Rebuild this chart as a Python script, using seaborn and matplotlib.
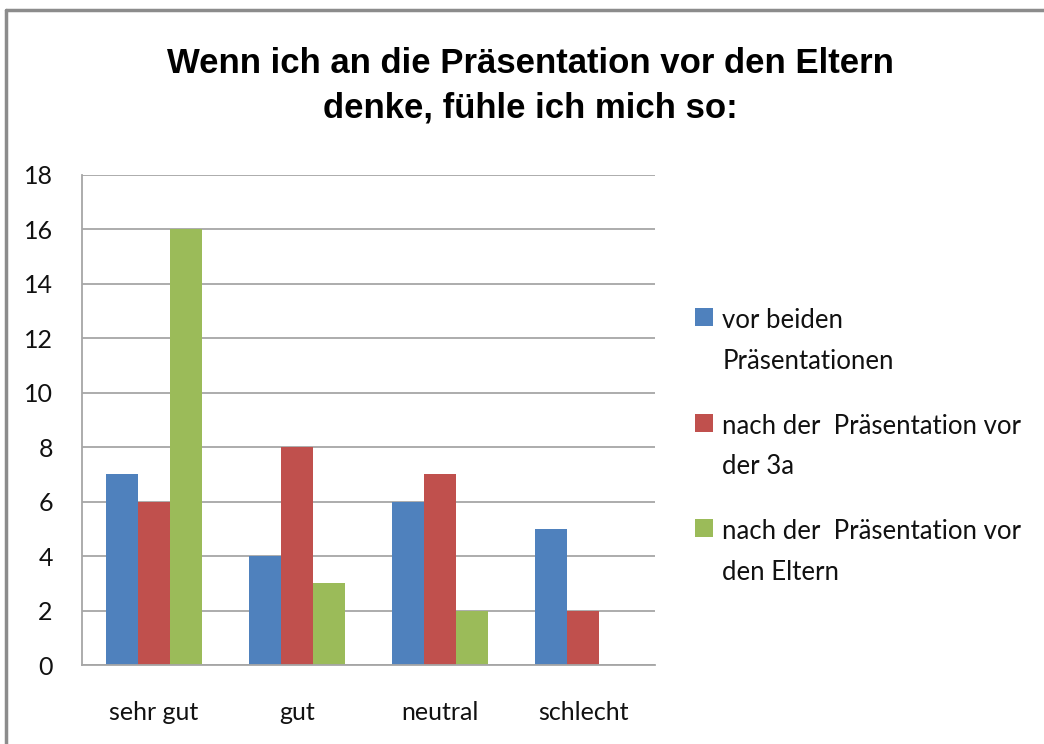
import numpy as np
import pandas as pd
import matplotlib
matplotlib.use("Agg")
import matplotlib.pyplot as plt
import seaborn as sns
from matplotlib.patches import Patch
from matplotlib.lines import Line2D
from matplotlib.offsetbox import HPacker

# --- DATA ---
categories = ["sehr gut", "gut", "neutral", "schlecht"]
series = ["vor beiden\nPräsentationen",
          "nach der  Präsentation vor\nder 3a",
          "nach der  Präsentation vor\nden Eltern"]
vor_beiden = [7, 4, 6, 5]
nach_3a = [6, 8, 7, 2]
nach_eltern = [16, 3, 2, 0]
colors = ["#4F81BD", "#C0504D", "#9BBB59"]

rows = []
for s, vals in zip(series, [vor_beiden, nach_3a, nach_eltern]):
    for c, v in zip(categories, vals):
        rows.append({"Kategorie": c, "Serie": s, "Anzahl": v})
df = pd.DataFrame(rows)

# --- PLOT ---
sns.set_style("white")
plt.rcParams["font.family"] = ["Lato", "DejaVu Sans"]

fig = plt.figure(figsize=(10.44, 7.44), dpi=100)
ax = fig.add_axes([0.0785, 0.106, 0.549, 0.659])

sns.barplot(data=df, x="Kategorie", y="Anzahl", hue="Serie",
            palette=colors, width=0.67, saturation=1, ax=ax,
            edgecolor="none", legend=False)

ax.set_ylim(0, 18)
ax.set_yticks(range(0, 19, 2))
ax.set_xlim(-0.5, 3.5)
ax.yaxis.grid(True, color="#A6A6A6", linewidth=1.3)
ax.set_axisbelow(True)
ax.set_xlabel("")
ax.set_ylabel("")
for side in ["top", "right"]:
    ax.spines[side].set_visible(False)
for side in ["left", "bottom"]:
    ax.spines[side].set_color("#A6A6A6")
    ax.spines[side].set_linewidth(1.3)
ax.tick_params(axis="y", length=0, pad=21, labelsize=18, labelcolor="#111111")
ax.tick_params(axis="x", length=0, pad=26, labelsize=18, labelcolor="#111111")

fig.text(0.508, 0.885, "Wenn ich an die Präsentation vor den Eltern\ndenke, fühle ich mich so:",
         ha="center", va="center", fontsize=25, fontweight="bold",
         family=["Liberation Sans", "DejaVu Sans"], linespacing=1.45, color="black")

handles = [Patch(facecolor=c, edgecolor="none") for c in colors]
leg = fig.legend(handles, series, loc="center left", bbox_to_anchor=(0.644, 0.400),
                 frameon=False, fontsize=18.5, handlelength=0.7, handleheight=0.7,
                 handletextpad=0.35, labelspacing=1.55)
for t in leg.get_texts():
    t.set_linespacing(1.78)
    t.set_color("#111111")
# square sits next to the first line of each entry, as in Excel
for hp in leg.findobj(HPacker):
    hp.align = "top"

# outer chart border (top and left visible)
fig.add_artist(Line2D([6 / 1044, 1], [1 - 10 / 744, 1 - 10 / 744],
                      transform=fig.transFigure, color="#8C8C8C", linewidth=2.5))
fig.add_artist(Line2D([6 / 1044, 6 / 1044], [0, 1 - 10 / 744],
                      transform=fig.transFigure, color="#8C8C8C", linewidth=2.5))

fig.savefig("out.png", dpi=100)
